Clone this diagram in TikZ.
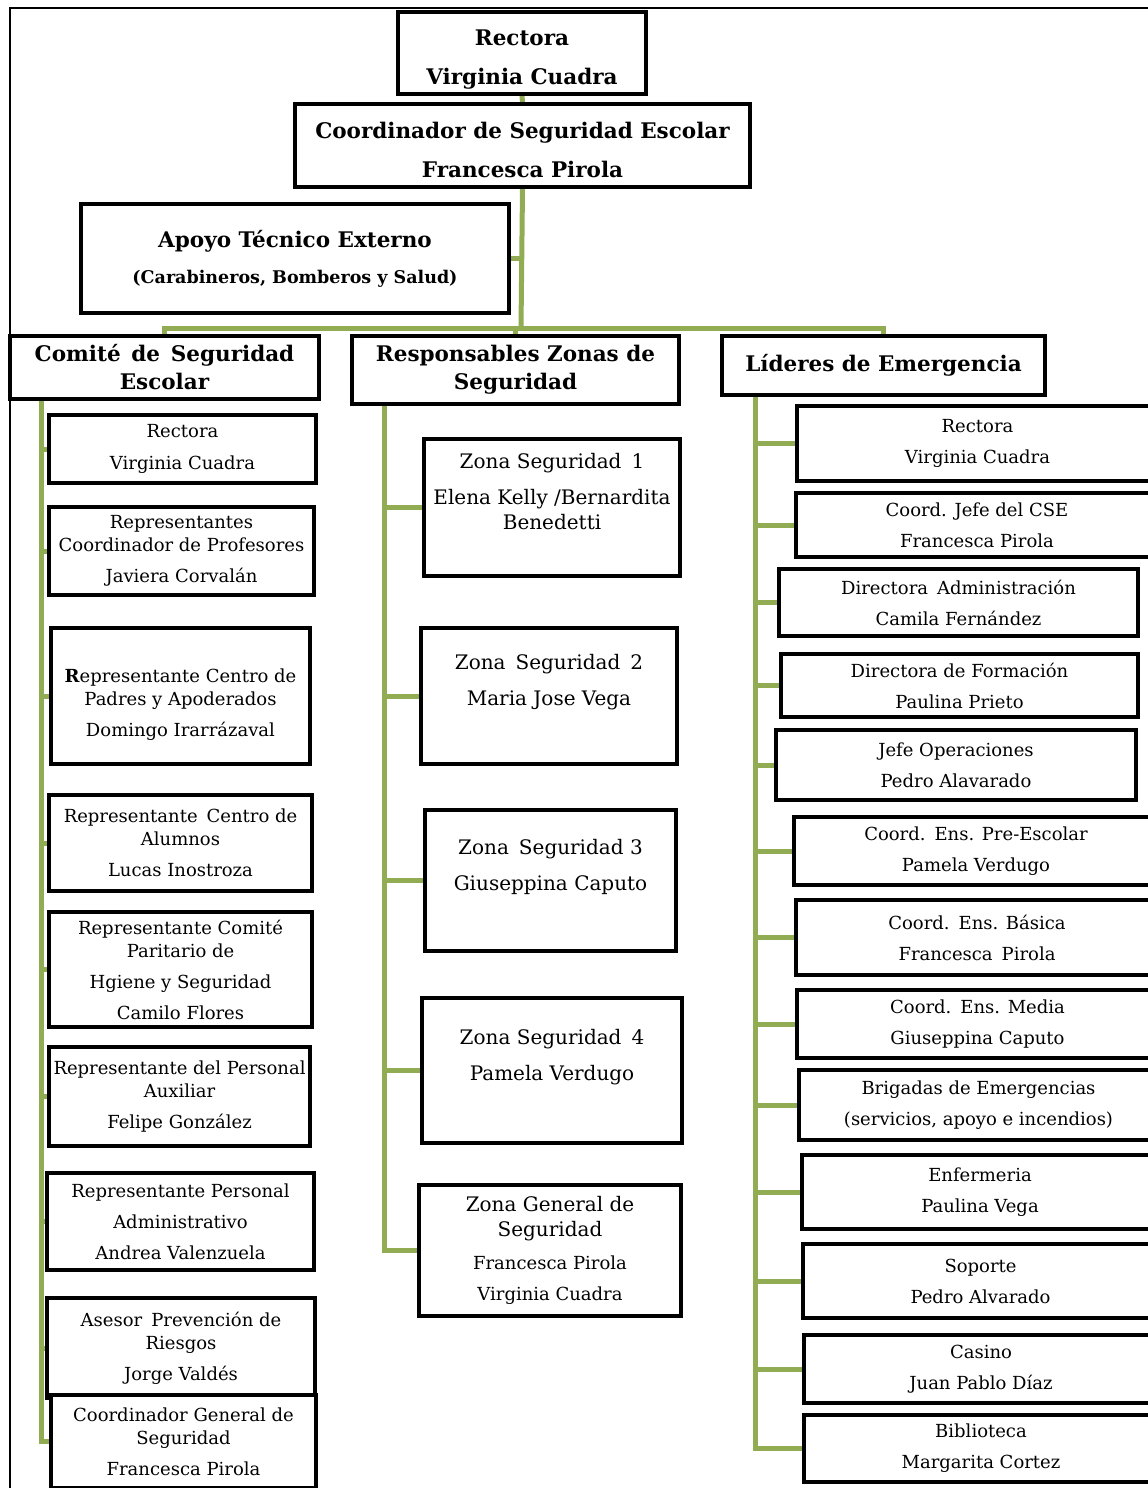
\documentclass[tikz,border=0pt]{standalone}
\usepackage{fontspec}
\setmainfont{DejaVu Serif}
\usetikzlibrary{backgrounds}
\definecolor{verde}{RGB}{145,172,82}

\tikzset{
  caja/.style={draw, line width=3.5pt, fill=white, align=center, inner sep=0pt,
    font=\fontsize{18}{23}\selectfont},
  zona/.style={caja, font=\fontsize{20}{25}\selectfont},
  jefe/.style={caja, font=\bfseries\fontsize{21.5}{28}\selectfont},
  rama/.style={draw=verde, line width=5pt},
}

\begin{document}
\begin{tikzpicture}[x=1pt,y=-1pt]
  \useasboundingbox (0,0) rectangle (1148,1488);
  \draw[line width=1.5pt] (10,1500) -- (10,8) -- (1160,8);

  % cabecera
  \node[jefe, minimum width=248, minimum height=82] (rect) at (522,53) {\mbox{}\\[0pt]Rectora\\[11pt]Virginia Cuadra};
  \node[jefe, minimum width=455, minimum height=83] (cse) at (522.5,145.5) {\mbox{}\\[-3pt]Coordinador de Seguridad Escolar\\[11pt]Francesca Pirola};
  \node[jefe, minimum width=428, minimum height=109] (apoyo) at (295,258.5)
    {Apoyo Técnico Externo\\[8pt]{\fontsize{17.5}{23}\selectfont (Carabineros, Bomberos y Salud)}};
  \node[jefe, minimum width=309, minimum height=63] (comite) at (164.5,367.5) {Comité\enspace de\enspace Seguridad\\Escolar};
  \node[jefe, minimum width=327, minimum height=68] (resp) at (515.5,370) {Responsables Zonas de\\Seguridad};
  \node[jefe, minimum width=323, minimum height=59] (lideres) at (883.5,365.5) {Líderes de Emergencia};
  \coordinate (bar) at (521,328);

  % comite de seguridad escolar
  \node[caja, minimum width=267, minimum height=68] (c1) at (182.5,449) {Rectora\\[9pt]Virginia Cuadra};
  \node[caja, minimum width=265, minimum height=88] (c2) at (181.5,551) {Representantes\\Coordinador de Profesores\\[8pt]Javiera Corvalán};
  \node[caja, minimum width=259, minimum height=136] (c3) at (180.5,696)
    {\mbox{}\\[7pt]\textbf{R}epresentante Centro de\\Padres y Apoderados\\[8pt]Domingo Irarrázaval};
  \node[caja, minimum width=263, minimum height=96] (c4) at (180.5,843) {Representante\enspace Centro de\\Alumnos\\[8pt]Lucas Inostroza};
  \node[caja, minimum width=263, minimum height=115] (c5) at (180.5,969.5)
    {Representante Comité\\Paritario de\\[8pt]Hgiene y Seguridad\\[8pt]Camilo Flores};
  \node[caja, minimum width=261, minimum height=99] (c6) at (179.5,1096.5) {Representante del Personal\\Auxiliar\\[8pt]Felipe González};
  \node[caja, minimum width=267, minimum height=97] (c7) at (180.5,1221.5) {Representante Personal\\[8pt]Administrativo\\[8pt]Andrea Valenzuela};
  \node[caja, minimum width=268, minimum height=100] (c8) at (181,1348) {Asesor\enspace Prevención de\\Riesgos\\[8pt]Jorge Valdés};
  \node[caja, minimum width=265, minimum height=93] (c9) at (183.5,1441.5) {Coordinador General de\\Seguridad\\[8pt]Francesca Pirola};
  \coordinate (sL) at (41,401);

  % zonas de seguridad
  \node[zona, minimum width=256, minimum height=137] (z1) at (552,507.5)
    {Zona Seguridad\enspace 1\\[11pt]Elena Kelly /Bernardita\\Benedetti\\[7pt]\mbox{}};
  \node[zona, minimum width=256, minimum height=136] (z2) at (549,696) {Zona\enspace Seguridad\enspace 2\\[11pt]Maria Jose Vega\\[7pt]\mbox{}};
  \node[zona, minimum width=251, minimum height=141] (z3) at (550.5,880.5) {Zona\enspace Seguridad 3\\[11pt]Giuseppina Caputo\\[7pt]\mbox{}};
  \node[zona, minimum width=260, minimum height=145] (z4) at (552,1070.5) {Zona Seguridad\enspace 4\\[11pt]Pamela Verdugo\\[7pt]\mbox{}};
  \node[zona, minimum width=262, minimum height=131] (z5) at (550,1250.5)
    {Zona General de\\Seguridad\\[8pt]{\fontsize{18}{23}\selectfont Francesca Pirola}\\[6pt]{\fontsize{18}{23}\selectfont Virginia Cuadra}};
  \coordinate (sM) at (384,406);

  % lideres de emergencia
  \node[caja, minimum width=361, minimum height=75] (l1) at (977.5,443.5) {Rectora\\[8pt]Virginia Cuadra};
  \node[caja, minimum width=362, minimum height=64] (l2) at (977,525) {Coord. Jefe del CSE\\[8pt]Francesca Pirola};
  \node[caja, minimum width=359, minimum height=67] (l3) at (958.5,602.5) {Directora\enspace Administración\\[8pt]Camila Fernández};
  \node[caja, minimum width=357, minimum height=63] (l4) at (959.5,685.5) {Directora de Formación\\[8pt]Paulina Prieto};
  \node[caja, minimum width=360, minimum height=70] (l5) at (956,765) {Jefe Operaciones\\[8pt]Pedro Alavarado};
  \node[caja, minimum width=364, minimum height=68] (l6) at (976,851) {Coord.\enspace Ens. Pre-Escolar\\[8pt]Pamela Verdugo};
  \node[caja, minimum width=362, minimum height=75] (l7) at (977,937.5) {Coord.\enspace Ens. Básica\\[8pt]Francesca\enspace Pirola};
  \node[caja, minimum width=361, minimum height=68] (l8) at (977.5,1024) {Coord.\enspace Ens. Media\\[8pt]Giuseppina Caputo};
  \node[caja, minimum width=359, minimum height=70] (l9) at (978.5,1105) {Brigadas de Emergencias\\[8pt](servicios, apoyo e incendios)};
  \node[caja, minimum width=356, minimum height=74] (l10) at (980,1192) {Enfermeria\\[8pt]Paulina Vega};
  \node[caja, minimum width=355, minimum height=74] (l11) at (980.5,1281) {Soporte\\[8pt]Pedro Alvarado};
  \node[caja, minimum width=354, minimum height=68] (l12) at (981,1369) {Casino\\[8pt]Juan Pablo Díaz};
  \node[caja, minimum width=354, minimum height=67] (l13) at (981,1448.5) {Biblioteca\\[8pt]Margarita Cortez};
  \coordinate (sR) at (755,397);

  % ramas verdes
  \begin{scope}[on background layer]
    \draw[rama] (rect.south) -- (cse.north);
    \draw[rama] (cse.south) -- (bar);
    \draw[rama] (apoyo.east) -- (apoyo.east -| bar);
    \draw[rama] (comite.north) |- (bar) -| (lideres.north);
    \draw[rama] (resp.north) -- (resp.north |- bar);
    \draw[rama] (sL) |- (c9.west);
    \foreach \n in {c1,c2,c3,c4,c5,c6,c7,c8}
      \draw[rama] (\n.west) -- (\n.west -| sL);
    \draw[rama] (sM) |- (z5.west);
    \foreach \n in {z1,z2,z3,z4}
      \draw[rama] (\n.west) -- (\n.west -| sM);
    \draw[rama] (sR) |- (l13.west);
    \foreach \n in {l1,l2,l3,l4,l5,l6,l7,l8,l9,l10,l11,l12}
      \draw[rama] (\n.west) -- (\n.west -| sR);
  \end{scope}
\end{tikzpicture}
\end{document}
